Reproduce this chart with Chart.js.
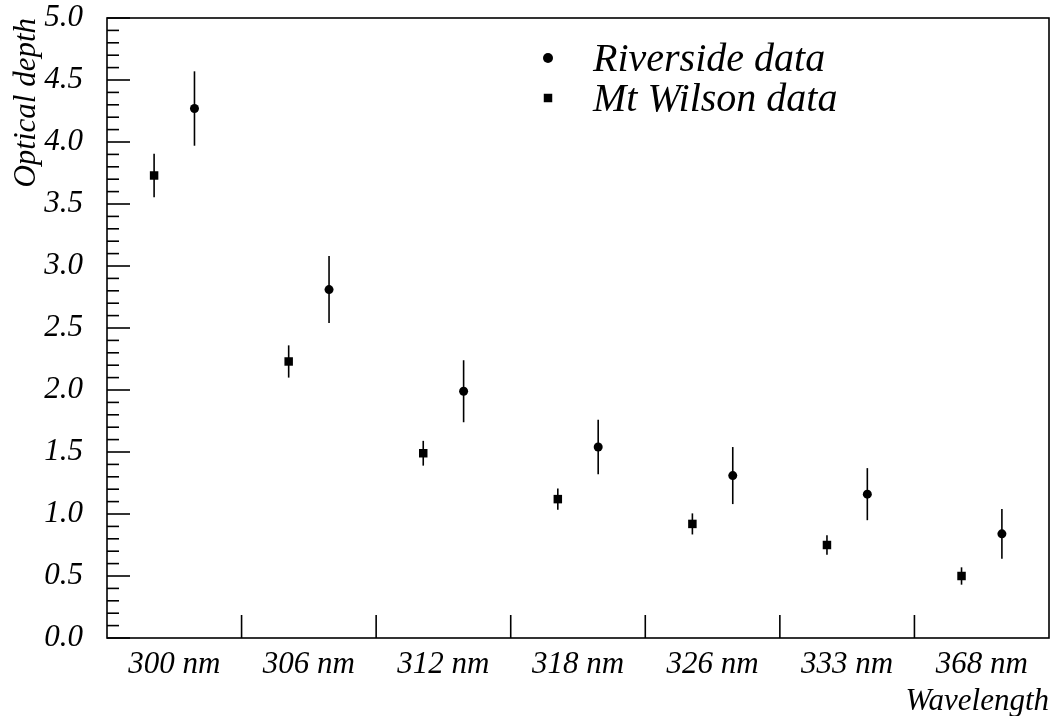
<!DOCTYPE html>
<html>
<head>
<meta charset="utf-8">
<script src="https://cdn.jsdelivr.net/npm/chart.js@4/dist/chart.umd.min.js"></script>
<style>
  body { margin: 0; background: #fff; }
  canvas { display: block; }
</style>
</head>
<body>
<canvas id="depthChart" width="1055" height="716"></canvas>
<script>
const categories = ["300 nm", "306 nm", "312 nm", "318 nm", "326 nm", "333 nm", "368 nm"];
const riverside = [4.27, 2.81, 1.99, 1.54, 1.31, 1.16, 0.84];
const riversideErr = [0.30, 0.27, 0.25, 0.22, 0.23, 0.21, 0.20];
const mtWilson = [3.73, 2.23, 1.49, 1.12, 0.92, 0.75, 0.50];
const mtWilsonErr = [0.175, 0.13, 0.10, 0.085, 0.085, 0.078, 0.07];
const yTicks = [0, 0.5, 1, 1.5, 2, 2.5, 3, 3.5, 4, 4.5, 5];

const FONT = "'Liberation Serif', 'Times New Roman', serif";

// place each series a bit left / right of the category centre
function toPoints(values, shift) {
  return values.map((v, i) => ({ x: i + 0.5 + shift, y: v }));
}

const errorBars = {
  id: "errorBars",
  beforeDatasetsDraw(chart) {
    const ctx = chart.ctx;
    const yScale = chart.scales.y;
    const errs = [riversideErr, mtWilsonErr];
    ctx.save();
    ctx.strokeStyle = "#000";
    ctx.lineWidth = 1.6;
    chart.data.datasets.forEach((ds, d) => {
      const meta = chart.getDatasetMeta(d);
      meta.data.forEach((pt, i) => {
        const v = ds.data[i].y;
        ctx.beginPath();
        ctx.moveTo(pt.x, yScale.getPixelForValue(v - errs[d][i]));
        ctx.lineTo(pt.x, yScale.getPixelForValue(v + errs[d][i]));
        ctx.stroke();
      });
    });
    ctx.restore();
  }
};

const frame = {
  id: "frame",
  afterDraw(chart) {
    const ctx = chart.ctx;
    const area = chart.chartArea;
    const xScale = chart.scales.x;
    const yScale = chart.scales.y;
    ctx.save();
    ctx.strokeStyle = "#000";
    ctx.lineWidth = 1.6;
    ctx.strokeRect(area.left, area.top, area.right - area.left, area.bottom - area.top);

    // y ticks, drawn inside: major every 0.5, minor every 0.1
    for (let k = 0; k <= 50; k++) {
      const y = yScale.getPixelForValue(k / 10);
      const len = k % 5 === 0 ? 23 : 12;
      ctx.beginPath();
      ctx.moveTo(area.left, y);
      ctx.lineTo(area.left + len, y);
      ctx.stroke();
    }
    // x ticks at category boundaries
    for (let k = 1; k < categories.length; k++) {
      const x = xScale.getPixelForValue(k);
      ctx.beginPath();
      ctx.moveTo(x, area.bottom);
      ctx.lineTo(x, area.bottom - 23);
      ctx.stroke();
    }

    // legend
    const rows = [[58, 0], [98, 1]];
    rows.forEach(([y, d]) => {
      const ds = chart.data.datasets[d];
      ctx.fillStyle = "#000";
      Chart.helpers.drawPoint(ctx, {
        pointStyle: ds.pointStyle,
        radius: d === 0 ? 5 : 6,
        rotation: 0,
        borderWidth: 0
      }, 548, y);
      ctx.font = "italic 40px " + FONT;
      ctx.textAlign = "left";
      ctx.textBaseline = "middle";
      ctx.fillText(ds.label, 593, y + 2);
    });
    ctx.restore();
  }
};

new Chart(document.getElementById("depthChart"), {
  type: "scatter",
  data: {
    datasets: [
      {
        label: "Riverside data",
        data: toPoints(riverside, 0.15),
        pointStyle: "circle",
        pointRadius: 4.5,
        backgroundColor: "#000",
        borderColor: "#000",
        borderWidth: 0
      },
      {
        label: "Mt Wilson data",
        data: toPoints(mtWilson, -0.15),
        pointStyle: "rect",
        pointRadius: 6,
        backgroundColor: "#000",
        borderColor: "#000",
        borderWidth: 0
      }
    ]
  },
  options: {
    responsive: false,
    animation: false,
    layout: { padding: { top: 18, right: 4, left: 0, bottom: 0 } },
    plugins: {
      legend: { display: false },
      tooltip: { enabled: false }
    },
    scales: {
      x: {
        type: "linear",
        min: 0,
        max: categories.length,
        afterFit: scale => {
          scale.height = 78;
          scale.paddingLeft = 0;
          scale.paddingRight = 0;
        },
        afterBuildTicks: scale => {
          scale.ticks = categories.map((c, i) => ({ value: i + 0.5 }));
        },
        grid: { display: false, drawTicks: false },
        border: { display: false },
        ticks: {
          autoSkip: false,
          maxRotation: 0,
          padding: 8,
          color: "#000",
          font: { family: FONT, size: 31, style: "italic" },
          callback: v => categories[Math.floor(v)]
        },
        title: {
          display: true,
          text: "Wavelength",
          align: "end",
          color: "#000",
          padding: { top: 0, bottom: 0 },
          font: { family: FONT, size: 31, style: "italic", lineHeight: 0.9 }
        }
      },
      y: {
        min: 0,
        max: 5,
        afterFit: scale => {
          scale.width = 107;
          scale.paddingTop = 0;
          scale.paddingBottom = 0;
        },
        afterBuildTicks: scale => {
          scale.ticks = yTicks.map(v => ({ value: v }));
        },
        grid: { display: false, drawTicks: false },
        border: { display: false },
        ticks: {
          padding: 24,
          color: "#000",
          font: { family: FONT, size: 31, style: "italic" },
          callback: v => v.toFixed(1)
        },
        title: {
          display: true,
          text: "Optical depth",
          align: "end",
          color: "#000",
          padding: { top: 8, bottom: 0 },
          font: { family: FONT, size: 31, style: "italic" }
        }
      }
    }
  },
  plugins: [errorBars, frame]
});
</script>
</body>
</html>
